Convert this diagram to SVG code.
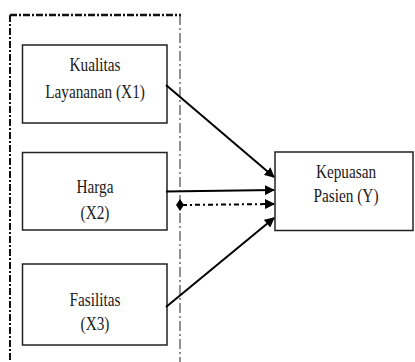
<svg xmlns="http://www.w3.org/2000/svg" width="415" height="362" viewBox="0 0 415 362">
<style>
.box{fill:#fff;stroke:#222;stroke-width:1.5}
.t{font-family:"Liberation Serif","Times New Roman",serif;font-size:18px;fill:#1a1a1a;text-anchor:middle}
.c{stroke:#000;stroke-width:2;fill:none}
</style>
<defs>
<marker id="ah" viewBox="0 0 10 10" refX="9" refY="5" markerWidth="5" markerHeight="5" orient="auto" markerUnits="strokeWidth">
<path d="M0,0 L10,5 L0,10 z" fill="#000"/>
</marker>
</defs>
<rect width="415" height="362" fill="#fff"/>
<g id="frame">
<line x1="10" y1="15" x2="10" y2="362" stroke="#111" stroke-width="2" stroke-dasharray="7 2 2 2"/>
<line x1="10" y1="15" x2="181" y2="15" stroke="#111" stroke-width="2.5" stroke-dasharray="7 2 2 2"/>
<line x1="180" y1="15" x2="180" y2="362" stroke="#222" stroke-width="1" stroke-dasharray="10 3 2 3"/>
</g>
<g id="x1">
<rect class="box" x="22.5" y="45" width="144.5" height="78"/>
<text class="t" transform="translate(95,71) scale(0.85,1)">Kualitas</text>
<text class="t" transform="translate(95,98) scale(0.85,1)">Layananan (X1)</text>
</g>
<g id="x2">
<rect class="box" x="22.5" y="152.5" width="144.5" height="77.5"/>
<text class="t" transform="translate(95,193) scale(0.85,1)">Harga</text>
<text class="t" transform="translate(95,219) scale(0.85,1)">(X2)</text>
</g>
<g id="x3">
<rect class="box" x="22.5" y="264" width="144.5" height="81"/>
<text class="t" transform="translate(95,306) scale(0.85,1)">Fasilitas</text>
<text class="t" transform="translate(95,330) scale(0.85,1)">(X3)</text>
</g>
<g id="y">
<rect class="box" x="275" y="152" width="138" height="78.5"/>
<text class="t" transform="translate(346,178) scale(0.85,1)">Kepuasan</text>
<text class="t" transform="translate(346,201.5) scale(0.85,1)">Pasien (Y)</text>
</g>
<g id="connectors">
<line class="c" x1="166" y1="85" x2="274" y2="177" marker-end="url(#ah)"/>
<line class="c" x1="166" y1="191.5" x2="274" y2="190" marker-end="url(#ah)"/>
<line class="c" x1="182" y1="205" x2="274" y2="204" stroke-dasharray="5 3 2 3" marker-end="url(#ah)"/>
<path d="M180,199 L184,205 L180,211 L176,205 z" fill="#000"/>
<line class="c" x1="166" y1="307" x2="274" y2="218" marker-end="url(#ah)"/>
</g>
</svg>
